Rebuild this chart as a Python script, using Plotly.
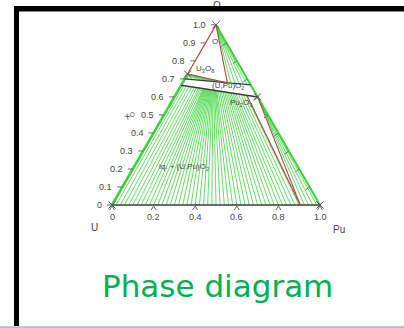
import math
import plotly.graph_objects as go

# ---------------- data (compositions) ----------------
# O atom-fraction ticks along the U-O edge
o_tick_vals = [0.0, 0.1, 0.2, 0.3, 0.4, 0.5, 0.6, 0.7, 0.8, 0.9, 1.0]
o_tick_text = ["0", "0.1", "0.2", "0.3", "0.4", "0.5", "0.6", "0.7", "0.8", "0.9", "1.0"]
# Pu ticks along the U-Pu base
pu_tick_vals = [0.0, 0.2, 0.4, 0.6, 0.8, 1.0]
pu_tick_text = ["0", "0.2", "0.4", "0.6", "0.8", "1.0"]
# right-edge tick positions (O fraction)
right_tick_vals = [0.1, 0.2, 0.3, 0.4, 0.5, 0.6, 0.7, 0.8, 0.9]

# tie-lines: liquid metal Pu fraction  ->  oxide Pu/(U+Pu) ratio on lower (U,Pu)O2 boundary
tie_liquid_pu = [0.00, 0.02, 0.04, 0.06, 0.08, 0.10, 0.12, 0.14, 0.16, 0.18,
                 0.20, 0.22, 0.24, 0.26, 0.28, 0.30, 0.32, 0.34, 0.36, 0.38,
                 0.40, 0.42, 0.44, 0.46, 0.48, 0.50, 0.52, 0.54, 0.56, 0.58,
                 0.60, 0.62, 0.64, 0.66, 0.68, 0.70, 0.72, 0.74, 0.76, 0.78,
                 0.80, 0.82, 0.84, 0.86, 0.88, 0.90]
tie_oxide_ratio = [0.00, 0.04, 0.08, 0.12, 0.16, 0.20, 0.23, 0.26, 0.28, 0.30,
                   0.32, 0.33, 0.34, 0.35, 0.36, 0.37, 0.38, 0.39, 0.40, 0.41,
                   0.42, 0.43, 0.44, 0.45, 0.46, 0.47, 0.48, 0.49, 0.50, 0.51,
                   0.53, 0.55, 0.57, 0.59, 0.61, 0.63, 0.65, 0.67, 0.69, 0.71,
                   0.73, 0.75, 0.78, 0.81, 0.84, 0.87]
# U3O8 + (U,Pu)O2+x tie-lines (ratio on upper boundary)
wedge_ratio = [0.05, 0.12, 0.20, 0.28, 0.36, 0.44, 0.52, 0.60]
# O + (U,Pu)O2+x tie-lines
oxygen_ratio = [0.72, 0.78, 0.84, 0.90, 0.95, 1.00]
# liquid + Pu2O3 tie-lines (liquid Pu fraction)
pu2o3_liquid = [0.925, 0.945, 0.965, 0.985]

# key compositions (Pu fraction, O fraction)
U3O8 = (0.0, 0.727)
PU2O3 = (0.4, 0.6)
O_VERT = (0.0, 1.0)
U_VERT = (0.0, 0.0)
PU_VERT = (1.0, 0.0)
three_phase_ratio_up = 0.67
three_phase_ratio_low = 0.88
three_phase_liquid = 0.905

# ---------------- geometry helpers ----------------
S = math.sqrt(3) / 2
PX = 208.0
X0, Y0 = 112.0, 205.0
W, H = 404, 328


def tx(pu, o):
    return pu + o / 2


def ty(o):
    return o * S


def px2x(p):
    return (p - X0) / PX


def py2y(p):
    return (Y0 - p) / PX


def low_bound(r):
    o = 0.665 - 0.065 * r
    return (r * (1 - o), o)


def up_bound(r):
    o = 0.70 - 0.033 * r
    return (r * (1 - o), o)


def seg_trace(segs, color, width):
    xs, ys = [], []
    for (a, b) in segs:
        xs += [tx(*a), tx(*b), None]
        ys += [ty(a[1]), ty(b[1]), None]
    return go.Scatter(x=xs, y=ys, mode="lines", line=dict(color=color, width=width),
                      hoverinfo="skip", showlegend=False)


GREEN = "#3cd43c"
RED = "#ad4a3e"
DARK = "#3a3a3a"

fig = go.Figure()

# main liquid + (U,Pu)O2 tie-lines
main = [((lp, 0.0), low_bound(r)) for lp, r in zip(tie_liquid_pu, tie_oxide_ratio)]
fig.add_trace(seg_trace(main, GREEN, 0.8))
fig.add_trace(seg_trace([(U3O8, up_bound(r)) for r in wedge_ratio], GREEN, 0.8))
fig.add_trace(seg_trace([(O_VERT, up_bound(r)) for r in oxygen_ratio], GREEN, 0.8))
fig.add_trace(seg_trace([(PU2O3, (lp, 0.0)) for lp in pu2o3_liquid], GREEN, 0.8))

# triangle edges
fig.add_trace(seg_trace([(U_VERT, U3O8)], GREEN, 2.6))
fig.add_trace(seg_trace([(PU_VERT, O_VERT)], GREEN, 2.0))
fig.add_trace(seg_trace([(U3O8, O_VERT)], RED, 1.2))
fig.add_trace(seg_trace([(U_VERT, PU_VERT)], DARK, 1.5))

# (U,Pu)O2 single phase band
fig.add_trace(seg_trace([(up_bound(0), up_bound(1))], DARK, 1.1))
fig.add_trace(seg_trace([(low_bound(0), PU2O3)], DARK, 1.5))

# three-phase triangles (red)
tp_up = up_bound(three_phase_ratio_up)
tp_low = low_bound(three_phase_ratio_low)
fig.add_trace(seg_trace([(U3O8, tp_up), (O_VERT, tp_up),
                         ((three_phase_liquid, 0.0), tp_low),
                         ((three_phase_liquid, 0.0), PU2O3)], RED, 1.1))

# ticks
tick_segs_x, tick_segs_y = [], []
for o in o_tick_vals:
    ex = tx(0, o)
    tick_segs_x += [ex - 5 / PX, ex, None]
    tick_segs_y += [ty(o), ty(o), None]
for o in right_tick_vals:
    ex = tx(1 - o, o)
    tick_segs_x += [ex, ex - 4 / PX, None]
    tick_segs_y += [ty(o), ty(o) - 3 / PX, None]
for v in pu_tick_vals:
    tick_segs_x += [v - 2.5 / PX, v, v + 2.5 / PX, None]
    tick_segs_y += [py2y(210), py2y(206), py2y(210), None]
fig.add_trace(go.Scatter(x=tick_segs_x, y=tick_segs_y, mode="lines",
                         line=dict(color="#6a6a6a", width=1), hoverinfo="skip", showlegend=False))

# point markers
pts = [U_VERT, PU_VERT, O_VERT, U3O8, PU2O3]
fig.add_trace(go.Scatter(x=[tx(*p) for p in pts], y=[ty(p[1]) for p in pts], mode="markers",
                         marker=dict(symbol="x-thin-open", size=7, color="#555",
                                     line=dict(color="#555", width=1)),
                         hoverinfo="skip", showlegend=False))

# "O" apex label (partly under the frame bar)
fig.add_trace(go.Scatter(x=[px2x(217)], y=[py2y(6)], mode="text", text=["O"],
                         textfont=dict(family="Arial", size=10, color="#444"),
                         hoverinfo="skip", showlegend=False))

ann = []
for o, t in zip(o_tick_vals, o_tick_text):
    ann.append(dict(x=tx(0, o) - 8 / PX, y=ty(o), text=t, xanchor="right", yanchor="middle",
                    showarrow=False, font=dict(family="Arial", size=9, color="#444")))
for v, t in zip(pu_tick_vals, pu_tick_text):
    ann.append(dict(x=v, y=py2y(217), text=t, xanchor="center", yanchor="middle",
                    showarrow=False, font=dict(family="Arial", size=9, color="#444")))

labels = [
    ("U", 94, 227, 10, 0),
    ("Pu", 339, 229, 10, 0),
    ("x<sub>O</sub>", 129, 114, 9, -45),
    ("U<sub>3</sub>O<sub>8</sub>", 205, 69, 8, 0),
    ("(U,Pu)O<sub>2</sub>", 228, 86, 8, 0),
    ("Pu<sub>2</sub>O<sub>3</sub>", 241, 103, 8, 0),
    ("lq. + (U,Pu)O<sub>2</sub>", 184, 167, 8, 0),
    ("O", 215, 41, 8, 0),
]
for t, x, y, s, ang in labels:
    ann.append(dict(x=px2x(x), y=py2y(y), text=t, xanchor="center", yanchor="middle",
                    showarrow=False, textangle=ang, font=dict(family="Arial", size=s, color="#444")))

# caption
ann.append(dict(x=px2x(217.5), y=py2y(286), text="Phase diagram", xanchor="center", yanchor="middle",
                showarrow=False, font=dict(family="DejaVu Sans", size=31, color="#00b050")))

shapes = [
    dict(type="rect", xref="x", yref="y", x0=px2x(14), x1=px2x(19), y0=py2y(6), y1=py2y(326),
         fillcolor="black", line=dict(width=0), layer="above"),
    dict(type="rect", xref="x", yref="y", x0=px2x(14), x1=px2x(405), y0=py2y(6), y1=py2y(11.5),
         fillcolor="black", line=dict(width=0), layer="above"),
    dict(type="rect", xref="x", yref="y", x0=px2x(-1), x1=px2x(405), y0=py2y(326.3), y1=py2y(329),
         fillcolor="#a9c0dc", line=dict(width=0), layer="above"),
]

fig.update_layout(
    width=W, height=H, margin=dict(l=0, r=0, t=0, b=0),
    paper_bgcolor="white", plot_bgcolor="white",
    xaxis=dict(range=[px2x(0), px2x(W)], visible=False, fixedrange=True),
    yaxis=dict(range=[py2y(H), py2y(0)], visible=False, fixedrange=True),
    annotations=ann, shapes=shapes, showlegend=False,
)

fig.write_html("out.html")
